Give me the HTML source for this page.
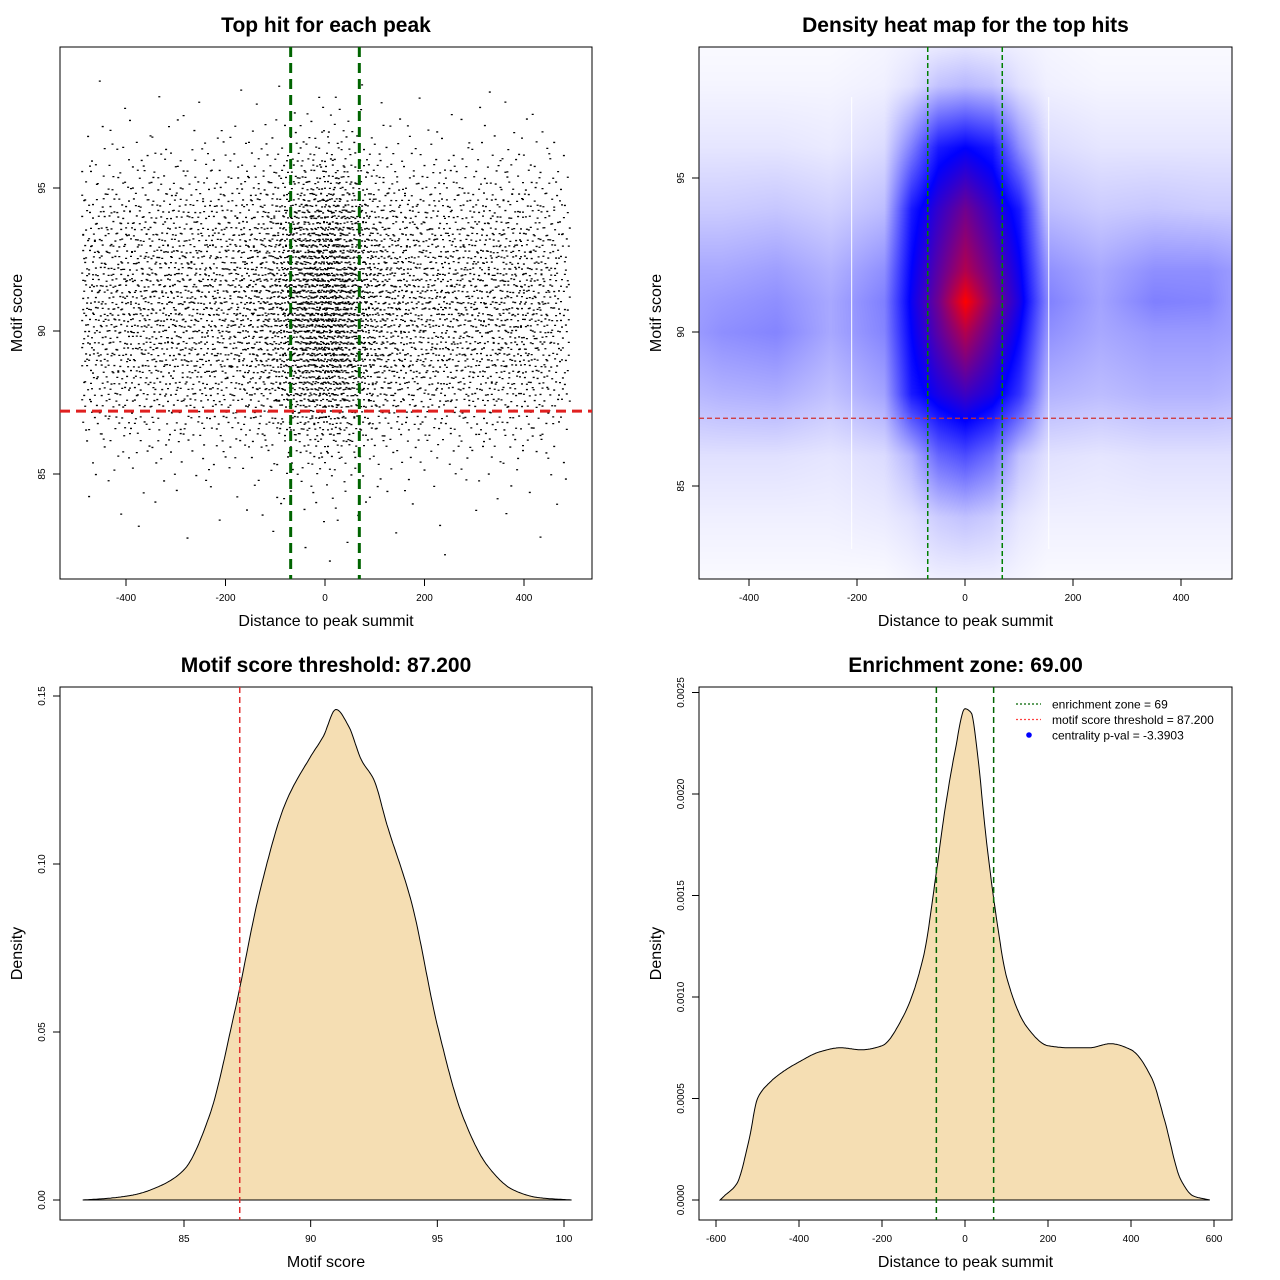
<!DOCTYPE html>
<html><head><meta charset="utf-8">
<style>
html,body{margin:0;padding:0;background:#fff;}
#wrap{position:relative;width:1280px;height:1280px;font-family:"Liberation Sans",sans-serif;}
canvas{position:absolute;left:0;top:0;}
svg{position:absolute;left:0;top:0;}
</style></head>
<body>
<div id="wrap">
<canvas id="heat" width="1280" height="1280"></canvas>
<svg id="svg" width="1280" height="1280" xmlns="http://www.w3.org/2000/svg"></svg>
</div>
<script>
// ---- data ----
const enrichZone = 69;
const scoreThreshold = 87.2;
// density of distance to summit (panel 4)
const distX = [-590,-580,-550,-520,-500,-470,-440,-400,-350,-300,-250,-200,-150,-100,-70,-50,-25,0,15,30,50,75,100,150,200,250,300,350,400,450,480,520,550,590];
const distD = [0,0.00002,0.00008,0.0003,0.0005,0.00058,0.00063,0.00068,0.00073,0.00075,0.00074,0.00076,0.0009,0.0012,0.0016,0.0019,0.0022,0.00242,0.0024,0.0022,0.0018,0.0014,0.0011,0.00085,0.00076,0.00075,0.00075,0.00077,0.00074,0.0006,0.0004,0.0001,0.00002,0];
// density of motif score (panel 3)
const scoreX = [81,82,83,84,85,86,87,88,89,90,90.5,91,91.5,92,92.5,93,94,95,96,97,98,99,100.3];
const scoreD = [0,0.0005,0.0015,0.004,0.009,0.025,0.056,0.092,0.118,0.132,0.138,0.146,0.141,0.131,0.125,0.112,0.088,0.052,0.025,0.01,0.003,0.0007,0];
// heat map grid (normalised density)
const heatCols = [-490,-450,-350,-250,-150,-100,-50,0,50,100,150,250,350,450,490];
const heatRows = [99.3,98,96,94,92,91,90,88,86,84,82];
const heatVals = [
 [0.01,0.01,0.01,0.01,0.02,0.03,0.04,0.05,0.04,0.03,0.02,0.01,0.01,0.01,0.01],
 [0.02,0.02,0.02,0.02,0.03,0.06,0.12,0.14,0.12,0.06,0.03,0.02,0.02,0.02,0.02],
 [0.05,0.05,0.05,0.04,0.07,0.25,0.45,0.5,0.45,0.22,0.07,0.05,0.05,0.05,0.05],
 [0.1,0.1,0.11,0.09,0.13,0.45,0.6,0.72,0.6,0.45,0.13,0.1,0.11,0.1,0.1],
 [0.17,0.17,0.19,0.15,0.22,0.5,0.68,0.85,0.7,0.52,0.22,0.17,0.22,0.22,0.2],
 [0.19,0.2,0.22,0.17,0.25,0.52,0.72,1.0,0.75,0.55,0.25,0.18,0.25,0.24,0.2],
 [0.2,0.22,0.24,0.17,0.24,0.5,0.68,0.85,0.68,0.5,0.22,0.17,0.2,0.2,0.19],
 [0.14,0.15,0.16,0.12,0.18,0.45,0.55,0.62,0.55,0.4,0.15,0.13,0.15,0.15,0.14],
 [0.06,0.06,0.06,0.05,0.07,0.15,0.3,0.35,0.28,0.12,0.06,0.05,0.06,0.06,0.06],
 [0.03,0.03,0.03,0.03,0.04,0.06,0.1,0.12,0.1,0.05,0.03,0.03,0.03,0.03,0.03],
 [0.01,0.01,0.01,0.01,0.01,0.02,0.03,0.03,0.03,0.02,0.01,0.01,0.01,0.01,0.01]
];
const nPoints = 6800;
const xTicks1 = [-400,-200,0,200,400];
const yTicks1 = [85,90,95];
const xTicks3 = [85,90,95,100];
const yTicks3 = [0,0.05,0.10,0.15];
const yTickLab3 = ["0.00","0.05","0.10","0.15"];
const xTicks4 = [-600,-400,-200,0,200,400,600];
const yTicks4 = [0,0.0005,0.001,0.0015,0.002,0.0025];
const yTickLab4 = ["0.0000","0.0005","0.0010","0.0015","0.0020","0.0025"];

// ---- helpers ----
const NS="http://www.w3.org/2000/svg";
const svg=document.getElementById('svg');
function el(tag,attrs,parent){const e=document.createElementNS(NS,tag);for(const k in attrs)e.setAttribute(k,attrs[k]);(parent||svg).appendChild(e);return e;}
function lin(d0,d1,r0,r1){return v=>r0+(v-d0)*(r1-r0)/(d1-d0);}
function interp(xs,ys,v){if(v<=xs[0])return ys[0];for(let i=1;i<xs.length;i++){if(v<=xs[i]){const t=(v-xs[i-1])/(xs[i]-xs[i-1]);return ys[i-1]+t*(ys[i]-ys[i-1]);}}return ys[ys.length-1];}
// monotone cubic interpolation (Fritsch-Carlson)
function smoothInterp(xs,ys){const n=xs.length,d=[],m=[];for(let i=0;i<n-1;i++)d.push((ys[i+1]-ys[i])/(xs[i+1]-xs[i]));
  m[0]=d[0];m[n-1]=d[n-2];for(let i=1;i<n-1;i++){if(d[i-1]*d[i]<=0)m[i]=0;else{const w1=2*(xs[i+1]-xs[i])+(xs[i]-xs[i-1]),w2=(xs[i+1]-xs[i])+2*(xs[i]-xs[i-1]);m[i]=(w1+w2)/(w1/d[i-1]+w2/d[i]);}}
  return v=>{if(v<=xs[0])return ys[0];if(v>=xs[n-1])return ys[n-1];let i=0;while(v>xs[i+1])i++;const h=xs[i+1]-xs[i],t=(v-xs[i])/h,t2=t*t,t3=t2*t;
    return (2*t3-3*t2+1)*ys[i]+(t3-2*t2+t)*h*m[i]+(-2*t3+3*t2)*ys[i+1]+(t3-t2)*h*m[i+1];};}
function halton(i,b){let f=1,r=0;while(i>0){f/=b;r+=f*(i%b);i=Math.floor(i/b);}return r;}
function cdfSampler(f,lo,hi){const N=500,gx=[],gc=[];let c=0;for(let i=0;i<=N;i++){const x=lo+(hi-lo)*i/N;gx.push(x);c+=Math.max(0,f(x));gc.push(c);}return u=>{const t=u*c;for(let i=0;i<=N;i++){if(gc[i]>=t)return gx[i];}return hi;};}

function panelFrame(g,box,title,xlab,ylab,xt,xs,xl,yt,ys,yl){
  const r=el('rect',{x:box.x0,y:box.y0,width:box.x1-box.x0,height:box.y1-box.y0,fill:'none',stroke:'#000','stroke-width':1},g);
  
  const t=el('text',{x:(box.x0+box.x1)/2,y:box.y0-15,'text-anchor':'middle','font-size':21,'font-weight':'bold'},g);t.textContent=title;
  
  const ax=el('g',{},g);
  el('line',{x1:xs(xt[0]),x2:xs(xt[xt.length-1]),y1:box.y1,y2:box.y1,stroke:'#000'},ax);
  xt.forEach((v,i)=>{const x=xs(v);el('line',{x1:x,x2:x,y1:box.y1,y2:box.y1+7,stroke:'#000'},ax);
    const tx=el('text',{x:x,y:box.y1+22,'text-anchor':'middle','font-size':10},ax);tx.textContent=xl[i];
    });
  const xt2=el('text',{x:(box.x0+box.x1)/2,y:box.y1+47,'text-anchor':'middle','font-size':16},g);xt2.textContent=xlab;
  
  const ay=el('g',{},g);
  el('line',{x1:box.x0,x2:box.x0,y1:ys(yt[0]),y2:ys(yt[yt.length-1]),stroke:'#000'},ay);
  yt.forEach((v,i)=>{const y=ys(v);el('line',{x1:box.x0-7,x2:box.x0,y1:y,y2:y,stroke:'#000'},ay);
    const tx=el('text',{x:box.x0-15,y:y,'text-anchor':'middle','font-size':10,transform:`rotate(-90 ${box.x0-15} ${y})`},ay);tx.textContent=yl[i];
    });
  const yt2=el('text',{x:box.x0-38,y:(box.y0+box.y1)/2,'text-anchor':'middle','font-size':16,transform:`rotate(-90 ${box.x0-38} ${(box.y0+box.y1)/2})`},g);yt2.textContent=ylab;
  
}
const distF=smoothInterp(distX,distD), scoreF=smoothInterp(scoreX,scoreD);

// ---- panel 1: scatter ----
const b1={x0:60,y0:47,x1:592,y1:579};
const x1s=lin(0,400,325,524), y1s=lin(90,95,331,188);
const g1=el('g',{});
panelFrame(g1,b1,'Top hit for each peak','Distance to peak summit','Motif score',xTicks1,x1s,xTicks1.map(String),yTicks1,y1s,yTicks1.map(String));
const sx=cdfSampler(distF,-490,490), sy=cdfSampler(scoreF,81.9,99);
let pts='';
for(let i=1;i<=nPoints;i++){const dx=sx(halton(i,2)),sc=Math.round(sy(halton(i,3))*5)/5+(halton(i,5)-0.5)*0.1;
  const px=x1s(dx),py=y1s(sc);if(py<b1.y0+2||py>b1.y1-2)continue;pts+=`M${px.toFixed(1)} ${py.toFixed(1)}h2v1.3h-2z`;}
const sp=el('path',{d:pts,fill:'#000'},g1);
[-enrichZone,enrichZone].forEach(v=>{const l=el('line',{x1:x1s(v),x2:x1s(v),y1:b1.y0,y2:b1.y1,stroke:'#006400','stroke-width':3,'stroke-dasharray':'10 6'},g1);
  });
{const l=el('line',{x1:b1.x0,x2:b1.x1,y1:y1s(scoreThreshold),y2:y1s(scoreThreshold),stroke:'#e02020','stroke-width':3,'stroke-dasharray':'10 6'},g1);
 }

// ---- panel 2: heatmap ----
const b2={x0:699,y0:47,x1:1232,y1:579};
const x2s=lin(0,200,965,1073), y2s=lin(90,95,332,178);
const ctx=document.getElementById('heat').getContext('2d');
function ramp(v){v=Math.max(0,Math.min(1,v));let r,g,b;if(v<0.5){const t=v/0.5;r=255*(1-t);g=255*(1-t);b=255;}else{const t=(v-0.5)/0.5;r=255*t;g=0;b=255*(1-t);}return [r,g,b];}
function bil(dx,sc){let ci=0;while(ci<heatCols.length-2&&dx>heatCols[ci+1])ci++;let ri=0;while(ri<heatRows.length-2&&sc<heatRows[ri+1])ri++;
  const tx=Math.max(0,Math.min(1,(dx-heatCols[ci])/(heatCols[ci+1]-heatCols[ci])));const ty=Math.max(0,Math.min(1,(sc-heatRows[ri])/(heatRows[ri+1]-heatRows[ri])));
  const a=heatVals[ri][ci],b=heatVals[ri][ci+1],c=heatVals[ri+1][ci],d=heatVals[ri+1][ci+1];
  return a*(1-tx)*(1-ty)+b*tx*(1-ty)+c*(1-tx)*ty+d*tx*ty;}
const img=ctx.createImageData(b2.x1-b2.x0,b2.y1-b2.y0);
const x2inv=lin(965,1073,0,200), y2inv=lin(332,178,90,95);
for(let py=0;py<img.height;py++){for(let px=0;px<img.width;px++){const v=bil(x2inv(b2.x0+px),y2inv(b2.y0+py));const c=ramp(v);const k=(py*img.width+px)*4;img.data[k]=c[0];img.data[k+1]=c[1];img.data[k+2]=c[2];img.data[k+3]=255;}}
ctx.putImageData(img,b2.x0,b2.y0);
const g2=el('g',{});
[-210,155].forEach(v=>{el('line',{x1:x2s(v),x2:x2s(v),y1:b2.y0+50,y2:b2.y1-30,stroke:'#fff','stroke-width':1.2,opacity:0.8},g2);});
panelFrame(g2,b2,'Density heat map for the top hits','Distance to peak summit','Motif score',xTicks1,x2s,xTicks1.map(String),yTicks1,y2s,yTicks1.map(String));
[-enrichZone,enrichZone].forEach(v=>{const l=el('line',{x1:x2s(v),x2:x2s(v),y1:b2.y0,y2:b2.y1,stroke:'#008000','stroke-width':1.5,'stroke-dasharray':'5 3'},g2);
  });
{const l=el('line',{x1:b2.x0,x2:b2.x1,y1:y2s(scoreThreshold),y2:y2s(scoreThreshold),stroke:'#d03030','stroke-width':1.2,'stroke-dasharray':'5 3'},g2);
 }

// ---- panel 3: score density ----
const b3={x0:60,y0:687,x1:592,y1:1220};
const x3s=lin(85,100,184,564), y3s=lin(0,0.15,1200,696);
const g3=el('g',{});
panelFrame(g3,b3,'Motif score threshold: 87.200','Motif score','Density',xTicks3,x3s,xTicks3.map(String),yTicks3,y3s,yTickLab3);
{let d='';const N=400;for(let i=0;i<=N;i++){const v=scoreX[0]+(scoreX[scoreX.length-1]-scoreX[0])*i/N;d+=(i?'L':'M')+x3s(v).toFixed(1)+' '+y3s(Math.max(0,scoreF(v))).toFixed(1);}d+='Z';
 const p=el('path',{d:d,fill:'#f5deb3',stroke:'#000','stroke-width':1},g3);}
{const l=el('line',{x1:x3s(scoreThreshold),x2:x3s(scoreThreshold),y1:b3.y0,y2:b3.y1,stroke:'#e03030','stroke-width':1.5,'stroke-dasharray':'6 4'},g3);
 }

// ---- panel 4: distance density ----
const b4={x0:699,y0:687,x1:1232,y1:1220};
const x4s=lin(0,200,965,1048), y4s=lin(0,0.002,1200,794);
const g4=el('g',{});
panelFrame(g4,b4,'Enrichment zone: 69.00','Distance to peak summit','Density',xTicks4,x4s,xTicks4.map(String),yTicks4,y4s,yTickLab4);
{let d='';const N=500;for(let i=0;i<=N;i++){const v=distX[0]+(distX[distX.length-1]-distX[0])*i/N;d+=(i?'L':'M')+x4s(v).toFixed(1)+' '+y4s(Math.max(0,distF(v))).toFixed(1);}d+='Z';
 const p=el('path',{d:d,fill:'#f5deb3',stroke:'#000','stroke-width':1},g4);}
[-enrichZone,enrichZone].forEach(v=>{const l=el('line',{x1:x4s(v),x2:x4s(v),y1:b4.y0,y2:b4.y1,stroke:'#006400','stroke-width':1.5,'stroke-dasharray':'6 4'},g4);
  });
// legend
const lg=el('g',{});
const leg=[['enrichment zone = 69','#006400','line'],['motif score threshold = 87.200','#ff4040','line'],['centrality p-val = -3.3903','#0000ff','dot']];
leg.forEach((e,i)=>{const y=704+i*15.5;const it=el('g',{},lg);
  if(e[2]==='line')el('line',{x1:1016,x2:1041,y1:y,y2:y,stroke:e[1],'stroke-width':1.2,'stroke-dasharray':'2 2'},it);
  else el('circle',{cx:1029,cy:y,r:2.8,fill:e[1]},it);
  const t=el('text',{x:1052,y:y+4.5,'font-size':12},it);t.textContent=e[0];});
</script>
</body></html>
